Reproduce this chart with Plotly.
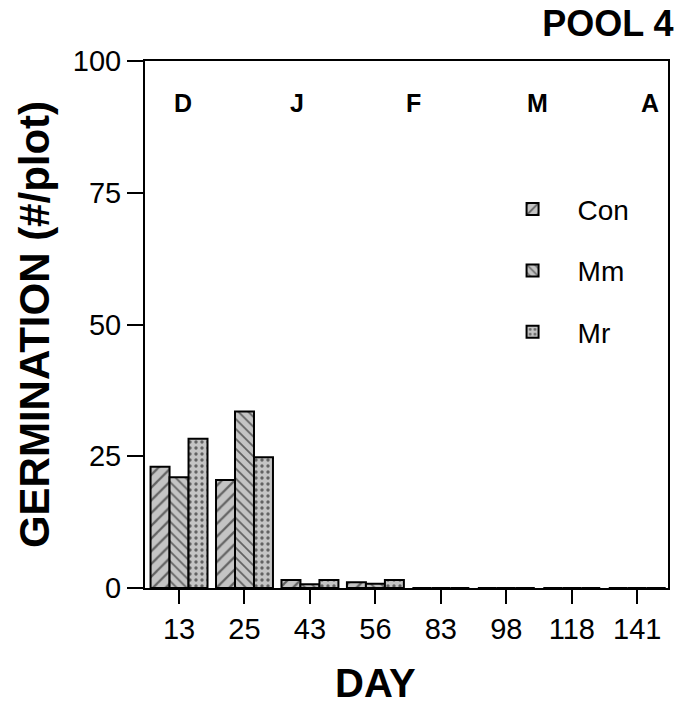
import plotly.graph_objects as go

days = ["13", "25", "43", "56", "83", "98", "118", "141"]
con = [23, 20.5, 1.5, 1.1, 0, 0, 0, 0]
mm = [21, 33.5, 0.7, 0.8, 0, 0, 0, 0]
mr = [28.3, 24.8, 1.5, 1.5, 0, 0, 0, 0]
months = ["D", "J", "F", "M", "A"]
month_pos = [0.072, 0.29, 0.513, 0.75, 0.965]
yticks = [0, 25, 50, 75, 100]

FONT = "Liberation Sans, Arial, Helvetica, sans-serif"

fig = go.Figure()
series = [("Con", con, "/", 9), ("Mm", mm, "\\", 7), ("Mr", mr, ".", 6)]
for i, (name, vals, shape, size) in enumerate(series):
    fig.add_trace(go.Bar(
        x=days, y=vals, name=name, legendgroup=name,
        marker=dict(
            color="#c4c4c4",
            line=dict(color="black", width=2),
            pattern=dict(shape=shape, fgcolor="black", size=size, solidity=0.25,
                         fillmode="overlay"),
        ),
    ))

fig.update_layout(
    width=677, height=704,
    margin=dict(l=145, r=7, t=61, b=116),
    paper_bgcolor="white", plot_bgcolor="white",
    barmode="group", bargap=0.13, bargroupgap=0,
    font=dict(family=FONT, color="black", size=28),
    showlegend=True,
    legend=dict(x=0.655, y=0.766, xanchor="left", yanchor="top",
                font=dict(size=28), tracegroupgap=22, itemwidth=80,
                bgcolor="rgba(0,0,0,0)"),
    title=dict(text="<b>POOL 4</b>", x=0.995, xanchor="right", y=0.967,
               yanchor="middle", font=dict(size=36, family=FONT)),
)

fig.update_xaxes(
    type="category", range=[-0.52, 7.47],
    showline=True, linecolor="black", linewidth=2, mirror=True,
    ticks="outside", ticklen=14, tickwidth=2, tickcolor="black",
    tickfont=dict(size=29), showgrid=False, zeroline=False,
)
fig.update_yaxes(
    range=[0, 100], tickvals=yticks,
    showline=True, linecolor="black", linewidth=2, mirror=True,
    ticks="outside", ticklen=16, tickwidth=2, tickcolor="black",
    tickfont=dict(size=29), showgrid=False, zeroline=False,
    title=dict(text="<b>GERMINATION (#/plot)</b>", font=dict(size=42), standoff=10),
)

fig.add_annotation(x=0.44, y=-0.18, xref="paper", yref="paper", text="<b>DAY</b>",
                   showarrow=False, font=dict(size=40, family=FONT),
                   xanchor="center", yanchor="middle")

for m, p in zip(months, month_pos):
    fig.add_annotation(x=p, y=0.92, xref="paper", yref="paper", text=f"<b>{m}</b>",
                       showarrow=False, font=dict(size=25, family=FONT),
                       xanchor="center", yanchor="middle")

fig.write_html("out.html")
